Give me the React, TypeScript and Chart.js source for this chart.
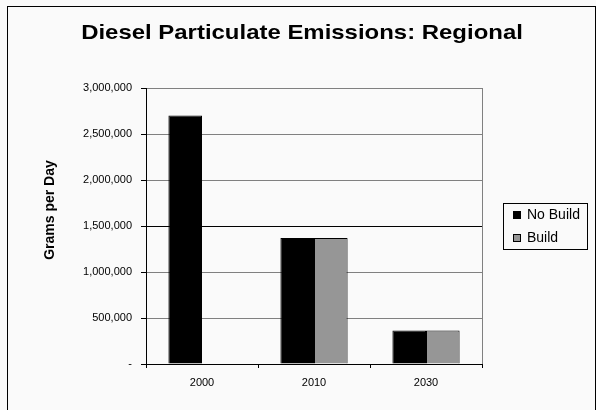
import React, { useEffect, useRef } from "react";
import { Chart, registerables } from "chart.js";

Chart.register(...registerables);

const TITLE = "Diesel Particulate Emissions: Regional";
const Y_TITLE = "Grams per Day";
const categories = ["2000", "2010", "2030"];
const noBuild = [2700000, 1370000, 365000];
const build: (number | null)[] = [null, 1370000, 365000];
const seriesNames = ["No Build", "Build"];
const seriesColors = ["#000000", "#969696"];

const FONT = "'Liberation Sans', Arial, sans-serif";

const decorPlugin = {
  id: "decor",
  beforeDraw(chart: any) {
    const { ctx, width, height } = chart;
    ctx.save();
    ctx.fillStyle = "#fafafa";
    ctx.fillRect(0, 0, width, height);
    ctx.strokeStyle = "#000";
    ctx.lineWidth = 1;
    ctx.strokeRect(7.5, 6.5, 588, height + 20);
    ctx.restore();
  },
  afterDraw(chart: any) {
    const { ctx, chartArea } = chart;
    ctx.save();
    // right frame of plot area
    ctx.strokeStyle = "#808080";
    ctx.lineWidth = 1;
    ctx.beginPath();
    ctx.moveTo(Math.round(chartArea.right) + 0.5, chartArea.top);
    ctx.lineTo(Math.round(chartArea.right) + 0.5, chartArea.bottom);
    ctx.stroke();
    // chart title
    ctx.fillStyle = "#000";
    ctx.textAlign = "center";
    ctx.textBaseline = "middle";
    ctx.save();
    ctx.translate(302, 33);
    ctx.scale(1.14, 1);
    ctx.font = `bold 21px ${FONT}`;
    ctx.fillText(TITLE, 0, 0);
    ctx.restore();
    // y title
    ctx.font = `bold 14px ${FONT}`;
    ctx.translate(50, 210);
    ctx.rotate(-Math.PI / 2);
    ctx.fillText(Y_TITLE, 0, 0);
    ctx.restore();
    // legend
    ctx.save();
    const bx = 503.5, by = 203.5, bw = 84, bh = 46;
    ctx.strokeStyle = "#000";
    ctx.lineWidth = 1;
    ctx.strokeRect(bx, by, bw, bh);
    ctx.font = `14px ${FONT}`;
    ctx.textBaseline = "middle";
    ctx.textAlign = "left";
    chart.data.datasets.forEach((ds: any, i: number) => {
      const cy = 215 + i * 23;
      ctx.fillStyle = ds.backgroundColor;
      ctx.fillRect(513, cy - 4, 8, 8);
      ctx.strokeStyle = "#000";
      ctx.strokeRect(513.5, cy - 3.5, 7, 7);
      ctx.fillStyle = "#000";
      ctx.fillText(ds.label, 527, cy + 0.5);
    });
    ctx.restore();
  },
};

export default function App() {
  const ref = useRef<HTMLCanvasElement>(null);
  useEffect(() => {
    if (!ref.current) return;
    const chart = new Chart(ref.current, {
      type: "bar",
      data: {
        labels: categories,
        datasets: [
          {
            label: seriesNames[0],
            data: noBuild,
            backgroundColor: seriesColors[0],
            borderColor: "#000",
            borderWidth: 1,
          },
          {
            label: seriesNames[1],
            data: build,
            backgroundColor: seriesColors[1],
            borderColor: "#000",
            borderWidth: 1,
          },
        ],
      },
      options: {
        animation: false,
        responsive: false,
        maintainAspectRatio: false,
        layout: { padding: { left: 8, right: 114, top: 88, bottom: 0 } },
        datasets: { bar: { categoryPercentage: 0.6, barPercentage: 1 } },
        plugins: {
          legend: { display: false },
          tooltip: { enabled: false },
          title: { display: false },
        },
        scales: {
          x: {
            afterFit: (s: any) => {
              s.height = 46;
            },
            grid: {
              display: true,
              drawOnChartArea: false,
              drawTicks: true,
              tickLength: 4,
              tickColor: "#000",
              offset: true,
            },
            border: { display: true, color: "#000", width: 1 },
            ticks: {
              color: "#000",
              font: { family: FONT, size: 11 },
              padding: 8,
            },
          },
          y: {
            min: 0,
            max: 3000000,
            afterFit: (s: any) => {
              s.width = 138;
            },
            grid: {
              color: (c: any) =>
                c.tick && c.tick.value === 1500000 ? "#000" : "#808080",
              tickColor: "#000",
              tickLength: 5,
            },
            border: { display: true, color: "#000", width: 1 },
            ticks: {
              stepSize: 500000,
              color: "#000",
              padding: 9,
              font: { family: FONT, size: 11 },
              callback: (v: any) =>
                Number(v) === 0 ? "-" : Number(v).toLocaleString("en-US"),
            },
          },
        },
      },
      plugins: [decorPlugin],
    });
    return () => chart.destroy();
  }, []);
  return (
    <div style={{ position: "fixed", left: 0, top: 0, width: 596, height: 410 }}>
      <canvas ref={ref} width={596} height={410} style={{ display: "block" }} />
    </div>
  );
}
